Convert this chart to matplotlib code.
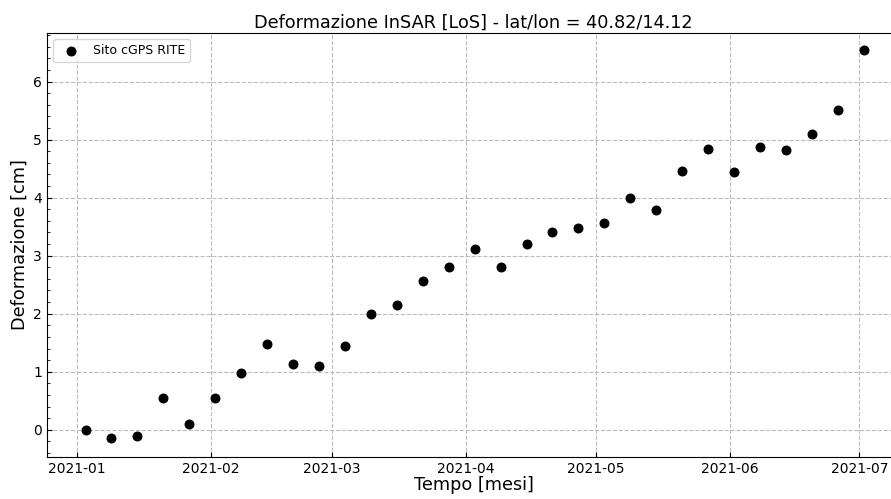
import numpy as np
import pandas as pd
import matplotlib
matplotlib.use("Agg")
import matplotlib.pyplot as plt
import matplotlib.dates as mdates
from matplotlib.ticker import AutoMinorLocator

# acquisizioni ogni 6 giorni
start_date = "2021-01-03"
n_acq = 31
step_days = 6
deformazione = [0.00, -0.14, -0.10, 0.55, 0.09, 0.55, 0.98, 1.48, 1.13, 1.09,
                1.44, 1.99, 2.15, 2.57, 2.81, 3.11, 2.81, 3.20, 3.41, 3.47,
                3.56, 4.00, 3.78, 4.46, 4.84, 4.44, 4.88, 4.82, 5.10, 5.52, 6.54]
yticks = [0, 1, 2, 3, 4, 5, 6]

date = pd.date_range(start_date, periods=n_acq, freq=f"{step_days}D")

fig = plt.figure(figsize=(8.91, 4.99), dpi=100)
ax = fig.add_axes([0.0527, 0.0842, 0.958, 0.8498])

ax.scatter(date, deformazione, s=38, color="black", label="Sito cGPS RITE", zorder=3)

ax.set_xlim(pd.Timestamp("2020-12-25 02:00"), pd.Timestamp("2021-07-10 12:00"))
ax.set_ylim(-0.47, 6.84)
ax.set_yticks(yticks)
ax.yaxis.set_minor_locator(AutoMinorLocator(5))
ax.xaxis.set_major_locator(mdates.MonthLocator())
ax.xaxis.set_major_formatter(mdates.DateFormatter("%Y-%m"))

ax.tick_params(axis="both", which="both", direction="in", labelsize=10)
ax.grid(True, linestyle="--", color="#bbbbbb", linewidth=0.8)

ax.set_title("Deformazione InSAR [LoS] - lat/lon = 40.82/14.12", fontsize=12.7, pad=4)
ax.set_xlabel("Tempo [mesi]", fontsize=12.7, labelpad=0)
ax.set_ylabel("Deformazione [cm]", fontsize=12.8, labelpad=3)
ax.legend(loc="upper left", fontsize=9)

fig.savefig("out.png", dpi=100)
